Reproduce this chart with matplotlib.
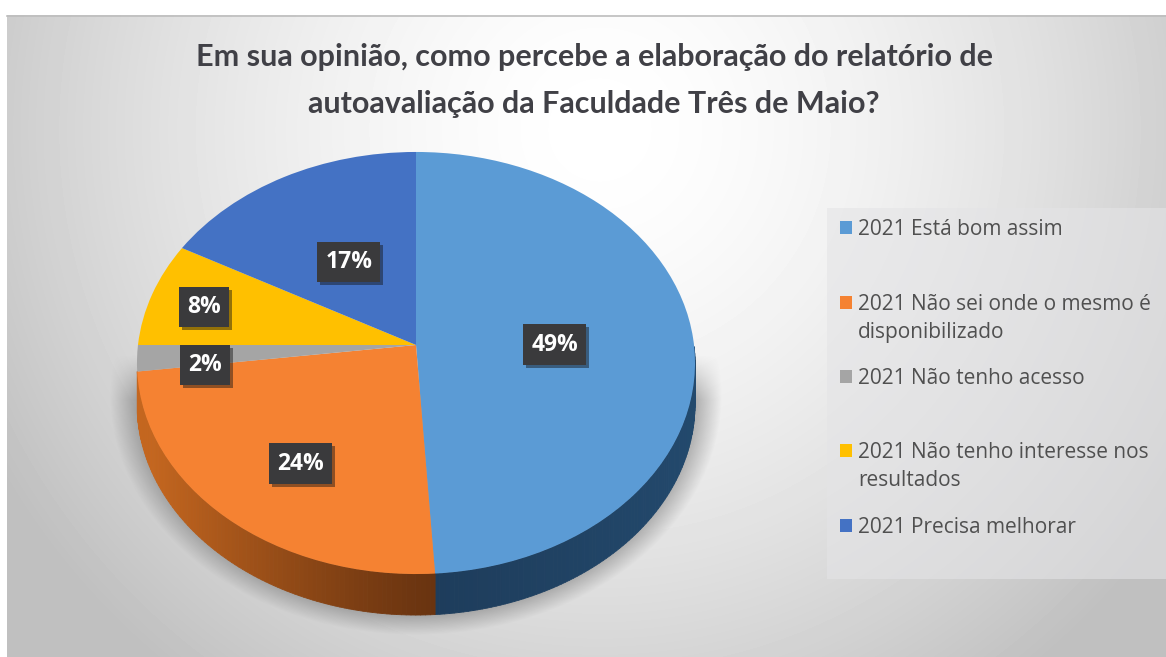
import numpy as np
import matplotlib
matplotlib.use("Agg")
import matplotlib.pyplot as plt
from matplotlib.transforms import Transform
from matplotlib.collections import PolyCollection
from matplotlib.patches import Rectangle
from matplotlib.colors import to_rgb
import matplotlib.patheffects as pe

title_lines = ["Em sua opinião, como percebe a elaboração do relatório de",
               "autoavaliação da Faculdade Três de Maio?"]
categories = ["2021 Está bom assim",
              "2021 Não sei onde o mesmo é\ndisponibilizado",
              "2021 Não tenho acesso",
              "2021 Não tenho interesse nos\nresultados",
              "2021 Precisa melhorar"]
values = [49, 24, 2, 8, 17]
colors = ["#5B9BD5", "#F58232", "#A5A5A5", "#FFC000", "#4472C4"]
label_radii = [0.5, 0.65, 0.76, 0.8, 0.5]
label_shift_x = [0, 5, 1, 0, 1]
label_shift_y = [-3, -9, -10, -3, -4]

W, H = 1166, 657
CX, CY, AX_, BY, K = 416.0, 345.0, 278.0, 209.5, 0.0853
DEPTH = 41.0


def project(uv):
    uv = np.asarray(uv, float)
    d = 1 + K * uv[..., 1]
    return np.stack([CX + AX_ * uv[..., 0] / d, CY - BY * uv[..., 1] / d], axis=-1)


class Perspective(Transform):
    input_dims = output_dims = 2
    is_affine = False
    has_inverse = False

    def transform_non_affine(self, values):
        return project(values)


plt.rcParams["font.family"] = ["Liberation Sans", "DejaVu Sans"]
fig = plt.figure(figsize=(W / 100, H / 100), dpi=100, facecolor="white")
ax = fig.add_axes([0, 0, 1, 1])

# background gradient
x0, y0 = 7, 15
xx, yy = np.meshgrid(np.arange(x0, W) + .5, np.arange(y0, H) + .5)
r = np.hypot((xx - 600) / 640, (yy - 130) / 640)
g = np.clip(1.0 - 0.22 * np.clip(r, 0, 1.08) ** 1.6, 0, 1)
ax.imshow(g, cmap="gray", vmin=0, vmax=1, extent=(x0, W, H, y0), zorder=0, aspect="auto")
ax.plot([x0, W], [15.5, 15.5], color="#BDBDBD", lw=1.2, zorder=1)

# soft shadow behind the pie
xx2, yy2 = np.meshgrid(np.arange(90, 750) + .5, np.arange(330, 650) + .5)
rr = np.hypot((xx2 - 416) / 306, (yy2 - 395) / 240)
alpha = np.clip((1.0 - rr) / 0.1, 0, 1) * np.clip((yy2 - 355) / 45, 0, 1) * 0.6
rgba = np.zeros(alpha.shape + (4,))
rgba[..., :3] = 0.45
rgba[..., 3] = alpha
ax.imshow(rgba, extent=(90, 750, 650, 330), zorder=1, aspect="auto")

# pie extrusion: per-angle quads along the front rim
side_dark = {0: ("#1E3D5C", "#234A6E"), 1: ("#6A3410", "#C4661F")}
edges = np.cumsum([0] + values) / sum(values) * 2 * np.pi
quads, qcolors = [], []
for i in side_dark:
    ts = np.linspace(edges[i], edges[i + 1], values[i] * 4)
    ts = ts[np.cos(ts) < 0]
    p = project(np.stack([np.sin(ts), np.cos(ts)], axis=-1))
    c_near, c_far = (np.array(to_rgb(c)) for c in side_dark[i])
    for j in range(len(ts) - 1):
        a, b = p[j], p[j + 1]
        quads.append([a, b, b + [0, DEPTH], a + [0, DEPTH]])
        f = min(abs(a[0] - 433) / 280, 1)
        qcolors.append(c_near + (c_far - c_near) * f ** 1.2)
ax.add_collection(PolyCollection(quads, facecolors=qcolors, edgecolors=qcolors, linewidths=.6, zorder=2))

# top face
wedges, _ = ax.pie(values, colors=colors, startangle=90, counterclock=False,
                   wedgeprops=dict(linewidth=0))
tr = Perspective() + ax.transData
for w in wedges:
    w.set_transform(tr)
    w.set_zorder(3)

# percentage labels
mids = (edges[:-1] + edges[1:]) / 2
for v, m, d, sx, sy in zip(values, mids, label_radii, label_shift_x, label_shift_y):
    ax.annotate(f"{v}%", xy=(d * np.sin(m), d * np.cos(m)), xycoords=tr,
                xytext=(sx, sy), textcoords="offset pixels", ha="center", va="center",
                color="white", fontsize=16.5, fontweight="bold",
                family=["Open Sans", "DejaVu Sans"], zorder=6,
                bbox=dict(boxstyle="square,pad=0.36", facecolor="#3A3A3C", edgecolor="none",
                          path_effects=[pe.withSimplePatchShadow(offset=(2, -2), alpha=.45)]))

# title
for line, yt in zip(title_lines, (57, 104)):
    ax.text(594, yt, line, ha="center", va="center", fontsize=22, fontweight="bold",
            color="#404046", family=["Lato", "DejaVu Sans"], zorder=6)

# legend
ax.add_patch(Rectangle((827, 208), 339, 371, facecolor="#E4E4E6", edgecolor="none", alpha=.6, zorder=4))
leg_y = [228, 303, 377, 451, 526]
for c, lab, yl in zip(colors, categories, leg_y):
    ax.add_patch(Rectangle((840, yl - 7), 12, 13, facecolor=c, edgecolor="none", zorder=5))
    ax.text(858, yl - 9, lab, ha="left", va="top", fontsize=15, color="#505050",
            linespacing=1.45, family=["Open Sans", "DejaVu Sans"], zorder=6)

ax.set_xlim(0, W)
ax.set_ylim(H, 0)
ax.set_aspect("auto")
ax.axis("off")
fig.savefig("out.png", dpi=100, facecolor="white")
